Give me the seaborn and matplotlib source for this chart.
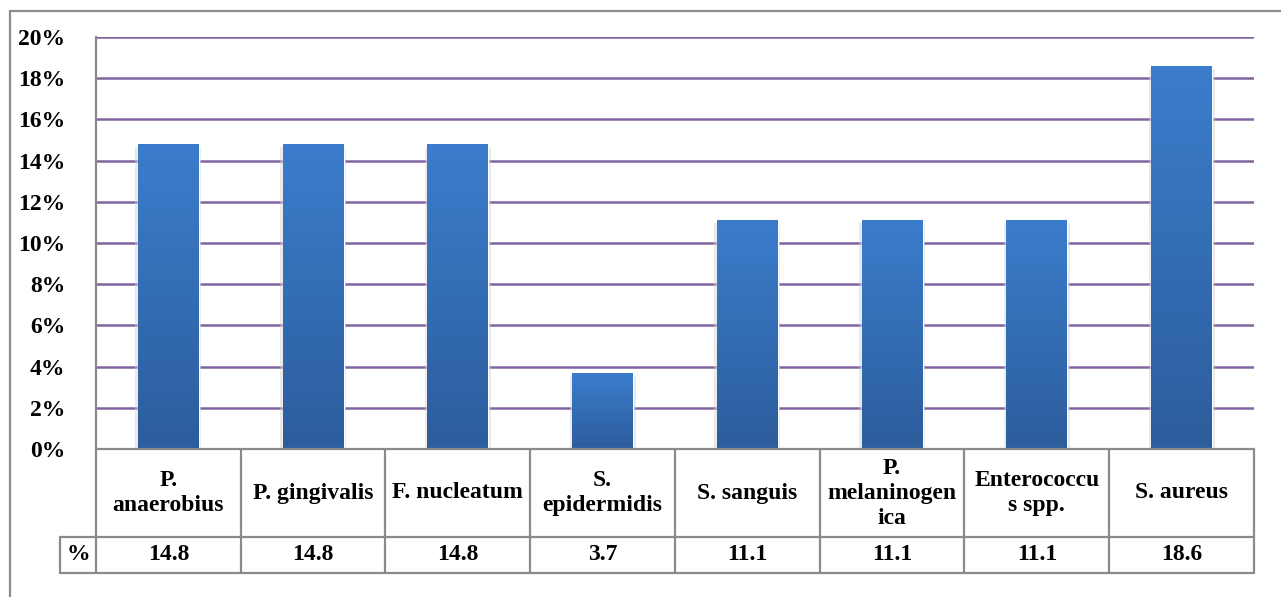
import numpy as np
import pandas as pd
import matplotlib.pyplot as plt
import seaborn as sns
from matplotlib.patches import Rectangle
from matplotlib.colors import LinearSegmentedColormap

# data
bacteria = ["P.\nanaerobius", "P. gingivalis", "F. nucleatum", "S.\nepidermidis",
            "S. sanguis", "P.\nmelaninogen\nica", "Enterococcu\ns spp.", "S. aureus"]
percent = [14.8, 14.8, 14.8, 3.7, 11.1, 11.1, 11.1, 18.6]
value_labels = ["14.8", "14.8", "14.8", "3.7", "11.1", "11.1", "11.1", "18.6"]
row_label = "%"
y_ticks = [0, 2, 4, 6, 8, 10, 12, 14, 16, 18, 20]

sns.set_theme(style="white")
plt.rcParams['font.family'] = ["Liberation Serif", "DejaVu Serif"]
plt.rcParams['font.weight'] = 'bold'
plt.rcParams['text.color'] = 'black'
FS = 17

W, H = 1281, 597
fig = plt.figure(figsize=(W / 100, H / 100), dpi=100)


def px(l, t, r, b):
    return [l / W, 1 - b / H, (r - l) / W, (b - t) / H]


# outer frame of the chart object
fig.add_artist(Rectangle((10 / W, -0.1), 1.2, 1 - 11 / H + 0.1, transform=fig.transFigure,
                         fill=False, ec="#8c8c8c", lw=1.6))

ax = fig.add_axes(px(96, 37, 1254, 449))
df = pd.DataFrame({"bacteria": bacteria, "percent": percent})
sns.barplot(data=df, x="bacteria", y="percent", width=0.42, color="#3572b8",
            ax=ax, zorder=3, errorbar=None)

# gradient fill + soft shadow for each bar
cmap = LinearSegmentedColormap.from_list("bar", ["#2c5d9c", "#3b7dcc"])
grad = np.linspace(0, 1, 256).reshape(-1, 1)
for p in ax.patches[:]:
    x0, y0 = p.get_x(), p.get_y()
    w, h = p.get_width(), p.get_height()
    ax.add_patch(Rectangle((x0 - 0.018, y0), w + 0.036, h - 0.15, color="#cfcfcf",
                           alpha=0.45, zorder=2.5, lw=0))
    im = ax.imshow(grad, extent=[x0, x0 + w, y0, y0 + h], origin="lower",
                   aspect="auto", cmap=cmap, zorder=3.5)
    im.set_clip_path(p)

ax.set_xlim(-0.5, 7.5)
ax.set_ylim(0, 20)
ax.set_yticks(y_ticks)
ax.set_yticklabels([f"{t}%" for t in y_ticks], fontfamily="Liberation Serif",
                   fontweight="bold", fontsize=FS, color="black")
ax.set_xticks([])
ax.set_xlabel("")
ax.set_ylabel("")
ax.tick_params(axis="y", length=0, pad=22)
for t in y_ticks[1:]:
    ax.axhline(t, color="#8064a2", lw=1.8, zorder=1)
for s in ["top", "right", "bottom"]:
    ax.spines[s].set_visible(False)
ax.spines["left"].set_color("#8a8a8a")
ax.spines["left"].set_linewidth(1.6)

# data table under the chart
tax = fig.add_axes(px(60, 449, 1254, 573))
xmin = -0.5 - 36 / 144.75
tax.set_xlim(xmin, 7.5)
tax.set_ylim(0, 124)
tax.axis("off")
lc, lw = "#8a8a8a", 1.6
for i in range(len(bacteria) + 1):
    tax.plot([i - 0.5, i - 0.5], [0, 124], color=lc, lw=lw, clip_on=False)
tax.plot([xmin, xmin], [0, 36], color=lc, lw=lw, clip_on=False)
tax.plot([xmin, 7.5], [0, 0], color=lc, lw=lw, clip_on=False)
tax.plot([xmin, 7.5], [36, 36], color=lc, lw=lw, clip_on=False)
tax.plot([-0.5, 7.5], [124, 124], color=lc, lw=lw, clip_on=False)

txt = dict(ha="center", va="center", fontsize=FS, fontweight="bold",
           fontfamily="Liberation Serif", color="black")
for i, (name, val) in enumerate(zip(bacteria, value_labels)):
    tax.text(i, 80, name, linespacing=1.25, **txt)
    tax.text(i, 18, val, **txt)
tax.text((xmin - 0.5) / 2, 18, row_label, **txt)

fig.savefig("out.png", dpi=100)
